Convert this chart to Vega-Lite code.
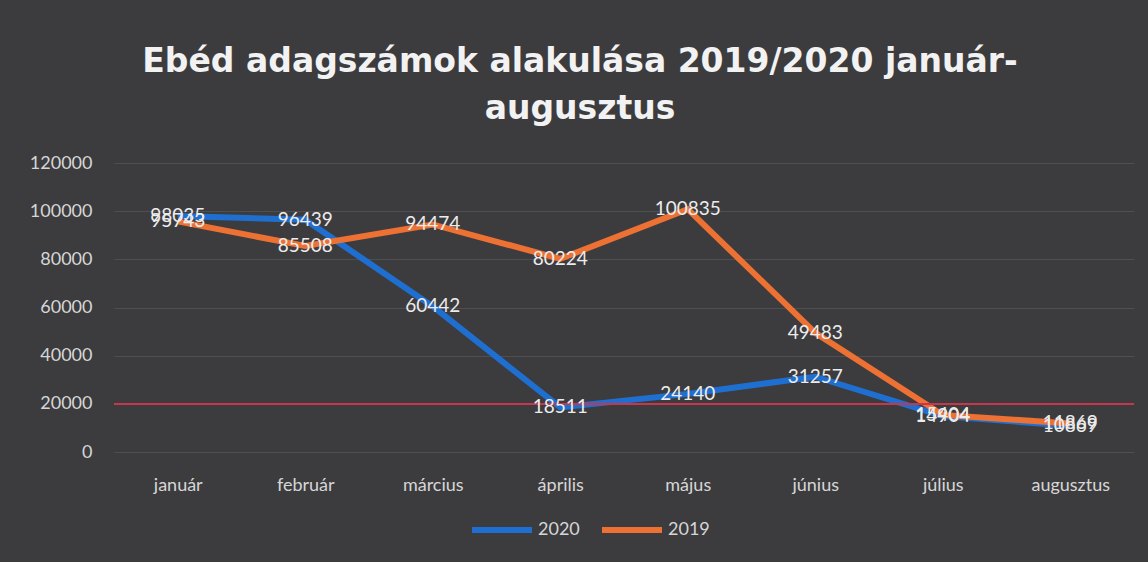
{
  "$schema": "https://vega.github.io/schema/vega-lite/v6.json",
  "width": 1020,
  "height": 289,
  "autosize": {"type": "none"},
  "padding": {"left": 114, "top": 163, "right": 14, "bottom": 110},
  "background": "#3c3c3f",
  "title": {
    "text": ["Ebéd adagszámok alakulása 2019/2020 január-", "augusztus"],
    "font": "DejaVu Sans",
    "fontSize": 33,
    "fontWeight": "bold",
    "color": "#f2f2f2",
    "lineHeight": 47,
    "anchor": "middle",
    "dx": -44,
    "offset": 28
  },
  "config": {"view": {"stroke": null}},
  "data": {
    "values": [
      {"honap": "január", "ev": "2020", "adag": 98035},
      {"honap": "február", "ev": "2020", "adag": 96439},
      {"honap": "március", "ev": "2020", "adag": 60442},
      {"honap": "április", "ev": "2020", "adag": 18511},
      {"honap": "május", "ev": "2020", "adag": 24140},
      {"honap": "június", "ev": "2020", "adag": 31257},
      {"honap": "július", "ev": "2020", "adag": 14904},
      {"honap": "augusztus", "ev": "2020", "adag": 10869},
      {"honap": "január", "ev": "2019", "adag": 95743},
      {"honap": "február", "ev": "2019", "adag": 85508},
      {"honap": "március", "ev": "2019", "adag": 94474},
      {"honap": "április", "ev": "2019", "adag": 80224},
      {"honap": "május", "ev": "2019", "adag": 100835},
      {"honap": "június", "ev": "2019", "adag": 49483},
      {"honap": "július", "ev": "2019", "adag": 15404},
      {"honap": "augusztus", "ev": "2019", "adag": 11869}
    ]
  },
  "encoding": {
    "x": {
      "field": "honap",
      "type": "nominal",
      "sort": ["január", "február", "március", "április", "május", "június", "július", "augusztus"],
      "scale": {"type": "point", "padding": 0.5},
      "axis": {
        "title": null,
        "labelAngle": 0,
        "labelPadding": 24,
        "ticks": false,
        "domain": false,
        "grid": false,
        "labelFont": "Lato",
        "labelFontSize": 18,
        "labelColor": "#d6d6d6"
      }
    },
    "y": {
      "field": "adag",
      "type": "quantitative",
      "scale": {"domain": [0, 120000]},
      "axis": {
        "title": null,
        "values": [0, 20000, 40000, 60000, 80000, 100000, 120000],
        "format": "d",
        "labelPadding": 22,
        "ticks": false,
        "domain": false,
        "gridColor": "#4f4f53",
        "gridWidth": 1,
        "labelFont": "Lato",
        "labelFontSize": 18,
        "labelColor": "#d6d6d6"
      }
    }
  },
  "layer": [
    {
      "mark": {"type": "line", "strokeWidth": 6},
      "encoding": {
        "color": {
          "field": "ev",
          "type": "nominal",
          "scale": {"domain": ["2020", "2019"], "range": ["#1f6fd1", "#ee7134"]},
          "legend": {
            "title": null,
            "orient": "none",
            "direction": "horizontal",
            "legendX": 355,
            "legendY": 334,
            "symbolType": "stroke",
            "symbolSize": 3600,
            "symbolStrokeWidth": 6,
            "labelFont": "Lato",
            "labelFontSize": 18,
            "labelColor": "#d6d6d6",
            "labelOffset": 3,
            "columnPadding": 10
          }
        }
      }
    },
    {
      "mark": {"type": "rule", "color": "#c8364f", "strokeWidth": 1.2},
      "encoding": {"y": {"datum": 20000, "type": "quantitative"}, "x": null}
    },
    {
      "mark": {"type": "text", "align": "center", "baseline": "middle", "font": "Lato", "fontSize": 19, "color": "#ececec"},
      "encoding": {"text": {"field": "adag", "type": "quantitative", "format": "d"}}
    }
  ]
}
